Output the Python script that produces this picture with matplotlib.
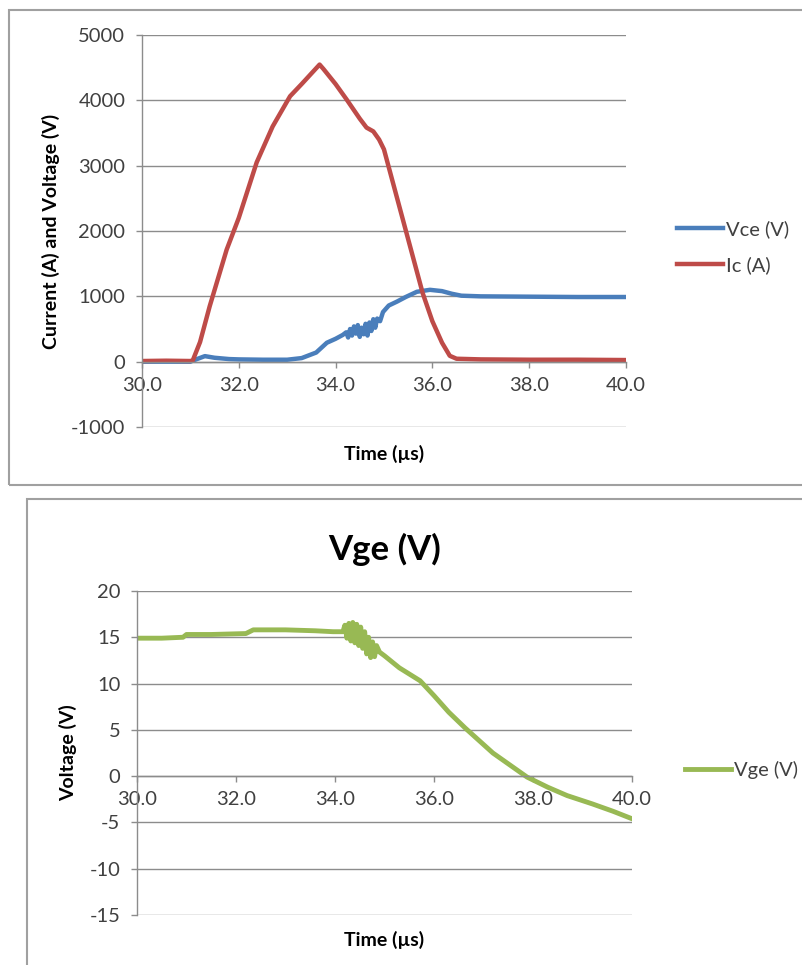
import matplotlib
matplotlib.use("Agg")
import matplotlib.pyplot as plt
from matplotlib.patches import Rectangle

plt.rcParams['font.family'] = ['Lato', 'DejaVu Sans']
plt.rcParams['axes.unicode_minus'] = False

# --- data (time in us) ---
t_vce = [30.0, 31.0, 31.1, 31.3, 31.5, 31.8, 32.0, 32.5, 33.0, 33.3, 33.6, 33.82,
         34.0, 34.15, 34.22, 34.26, 34.3, 34.34, 34.38, 34.42, 34.46, 34.5, 34.54,
         34.58, 34.62, 34.66, 34.7, 34.74, 34.78, 34.82, 34.86, 34.92, 34.98, 35.1,
         35.27, 35.45, 35.68, 35.95, 36.2, 36.4, 36.6, 37.0, 38.0, 39.0, 40.0]
vce = [0, 0, 30, 85, 60, 40, 35, 30, 30, 55, 140, 290,
       350, 410, 450, 370, 500, 400, 540, 430, 560, 380, 520,
       420, 580, 400, 600, 470, 650, 520, 660, 620, 760, 860,
       920, 990, 1070, 1100, 1080, 1040, 1010, 1000, 995, 990, 990]

t_ic = [30.0, 30.5, 31.0, 31.05, 31.2, 31.4, 31.75, 32.0, 32.37, 32.7, 33.06, 33.3,
        33.67, 33.75, 34.0, 34.23, 34.5, 34.64, 34.78, 34.9, 35.0, 35.4, 35.8, 36.0,
        36.2, 36.36, 36.5, 37.0, 38.0, 39.0, 40.0]
ic = [10, 15, 10, 20, 300, 850, 1715, 2200, 3050, 3600, 4063, 4250,
      4548, 4480, 4250, 4012, 3720, 3583, 3525, 3400, 3250, 2150, 1050, 620,
      290, 90, 45, 35, 30, 30, 25]

t_vge = [30.0, 30.5, 30.93, 31.0, 31.5, 32.2, 32.35, 33.0, 33.6, 33.96, 34.16, 34.2,
         34.24, 34.28, 34.32, 34.36, 34.4, 34.44, 34.48, 34.52, 34.56, 34.6, 34.64,
         34.68, 34.72, 34.76, 34.8, 34.84, 34.9, 35.0, 35.3, 35.72, 36.0, 36.3, 36.63,
         37.19, 37.88, 38.3, 38.69, 39.2, 39.62, 40.0]
vge = [14.9, 14.9, 15.0, 15.3, 15.3, 15.4, 15.8, 15.8, 15.7, 15.6, 15.6, 16.3,
       14.9, 16.5, 14.6, 16.6, 14.4, 16.4, 14.1, 16.1, 13.8, 15.6, 13.2,
       15.0, 12.8, 14.5, 12.9, 14.1, 13.4, 13.0, 11.7, 10.3, 8.7, 6.9, 5.2,
       2.5, -0.1, -1.2, -2.1, -3.0, -3.8, -4.6]

x_ticks = [30, 32, 34, 36, 38, 40]
top_yticks = [-1000, 0, 1000, 2000, 3000, 4000, 5000]
bot_yticks = [-15, -10, -5, 0, 5, 10, 15, 20]

blue = '#4A7EBB'
red = '#BE4B48'
green = '#98B954'
grey = '#8C8C8C'
txt = '#404040'

fig = plt.figure(figsize=(8.03, 9.65), dpi=100)

# chart area borders (they run off the right / bottom of the screenshot)
fig.patches.append(Rectangle((0.0112, 0.4974), 1.2, 0.4922, transform=fig.transFigure,
                             fill=False, edgecolor='#A0A0A0', lw=1.5))
fig.patches.append(Rectangle((0.0336, -0.2), 1.2, 0.6829, transform=fig.transFigure,
                             fill=False, edgecolor='#A0A0A0', lw=1.5))


def style_axes(ax, yticks):
    ax.set_xlim(30, 40)
    ax.set_ylim(yticks[0], yticks[-1])
    ax.set_xticks(x_ticks)
    ax.set_xticklabels([f"{v:.1f}" for v in x_ticks])
    ax.set_yticks(yticks)
    ax.grid(axis='y', color=grey, lw=1.0)
    ax.set_axisbelow(True)
    for s in ['top', 'right']:
        ax.spines[s].set_visible(False)
    ax.spines['left'].set_color(grey)
    ax.spines['left'].set_linewidth(1.0)
    ax.spines['bottom'].set_position(('data', 0))
    ax.spines['bottom'].set_color(grey)
    ax.spines['bottom'].set_linewidth(1.0)
    ax.tick_params(axis='both', direction='out', length=4, width=1.0, color=grey,
                   labelcolor=txt, labelsize=14.5)
    ax.tick_params(axis='x', pad=7)
    ax.tick_params(axis='y', pad=8)


# top chart: Vce and Ic
ax1 = fig.add_axes([0.1768, 0.5575, 0.6027, 0.4062])
ax1.plot(t_vce, vce, color=blue, lw=3.2, label='Vce (V)')
ax1.plot(t_ic, ic, color=red, lw=3.2, label='Ic (A)')
style_axes(ax1, top_yticks)
ax1.set_ylabel('Current (A) and Voltage (V)', fontsize=14, fontweight='bold')
ax1.yaxis.set_label_coords(-0.17, 0.5)
ax1.set_xlabel('Time (µs)', fontsize=14, fontweight='bold')
ax1.xaxis.set_label_coords(0.5, -0.045)
ax1.legend(loc='center left', bbox_to_anchor=(1.105, 0.458), frameon=False,
           fontsize=14.5, labelcolor=txt, handlelength=2.3, handletextpad=0.15,
           labelspacing=0.9, borderpad=0, borderaxespad=0)

# bottom chart: Vge
ax2 = fig.add_axes([0.1706, 0.0518, 0.6164, 0.3358])
ax2.plot(t_vge, vge, color=green, lw=3.5, label='Vge (V)')
style_axes(ax2, bot_yticks)
ax2.set_title('Vge (V)', fontsize=25, fontweight='bold', pad=22)
ax2.set_ylabel('Voltage (V)', fontsize=14, fontweight='bold')
ax2.yaxis.set_label_coords(-0.12, 0.5)
ax2.set_xlabel('Time (µs)', fontsize=14, fontweight='bold')
ax2.xaxis.set_label_coords(0.5, -0.05)
ax2.legend(loc='center left', bbox_to_anchor=(1.107, 0.4475), frameon=False,
           fontsize=14.5, labelcolor=txt, handlelength=2.3, handletextpad=0.15,
           borderpad=0, borderaxespad=0)

fig.savefig('out.png', dpi=100)
